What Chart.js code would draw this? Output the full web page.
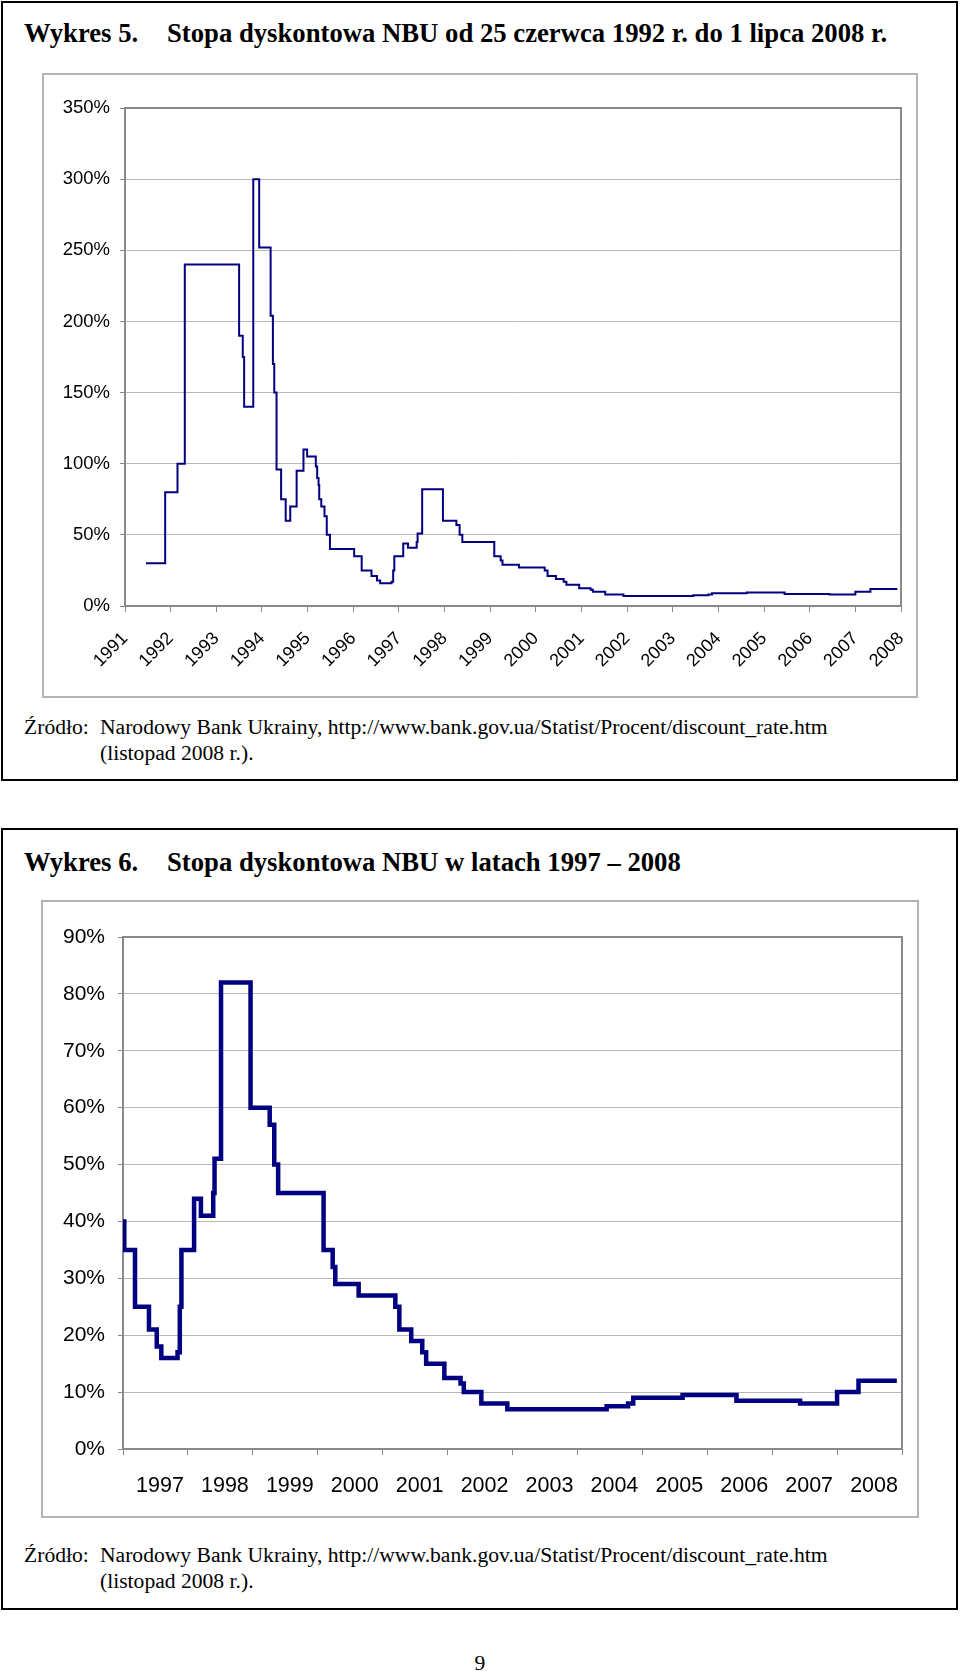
<!DOCTYPE html>
<html>
<head>
<meta charset="utf-8">
<script src="https://cdn.jsdelivr.net/npm/chart.js@4.4.0/dist/chart.umd.min.js"></script>
<style>
  body { margin:0; background:#fff; width:960px; height:1671px; position:relative; overflow:hidden;
         font-family:"Liberation Serif", "Times New Roman", serif; color:#000; }
  .box { position:absolute; left:1px; width:953px; border:2px solid #000; }
  .txt { position:absolute; white-space:pre; }
  .title { font-weight:bold; font-size:26.7px; line-height:26.7px; }
  .src { font-size:21.6px; line-height:25.5px; }
  .frame { position:absolute; border:2px solid #b4b4b4; box-sizing:border-box; }
  .chartbox { position:absolute; }
</style>
</head>
<body>

<div class="box" style="top:1px; height:776px;"></div>
<div class="box" style="top:828px; height:778px;"></div>

<div class="txt title" style="left:24px; top:20px;">Wykres 5.</div>
<div class="txt title" style="left:167px; top:20px;">Stopa dyskontowa NBU od 25 czerwca 1992 r. do 1 lipca 2008 r.</div>

<div class="frame" style="left:42px; top:73px; width:876px; height:625px;"></div>
<div class="chartbox" style="left:42px; top:73px; width:876px; height:625px;"><canvas id="myChart1"></canvas></div>

<div class="txt src" style="left:24px; top:715px;">Źródło:</div>
<div class="txt src" style="left:100px; top:715px;">Narodowy Bank Ukrainy, http://www.bank.gov.ua/Statist/Procent/discount_rate.htm
(listopad 2008 r.).</div>

<div class="txt title" style="left:24px; top:849px;">Wykres 6.</div>
<div class="txt title" style="left:167px; top:849px;">Stopa dyskontowa NBU w latach 1997 – 2008</div>

<div class="frame" style="left:41px; top:900px; width:878px; height:618px;"></div>
<div class="chartbox" style="left:41px; top:900px; width:878px; height:618px;"><canvas id="myChart2"></canvas></div>

<div class="txt src" style="left:24px; top:1543px;">Źródło:</div>
<div class="txt src" style="left:100px; top:1543px;">Narodowy Bank Ukrainy, http://www.bank.gov.ua/Statist/Procent/discount_rate.htm
(listopad 2008 r.).</div>

<div class="txt src" style="left:0; width:960px; text-align:center; top:1651px;">9</div>

<script>
// dates where a new rate starts (decimal year), last one is the end of the series
const stepDates = [
  1992.46, 1992.88, 1993.15, 1993.31, 1994.50, 1994.58, 1994.61, 1994.81, 1994.94,
  1995.19, 1995.24, 1995.27, 1995.32, 1995.42, 1995.52, 1995.62, 1995.76, 1995.91, 1995.99,
  1996.18, 1996.21, 1996.24, 1996.255, 1996.30, 1996.37, 1996.42, 1996.49,
  1997.02, 1997.185, 1997.40, 1997.52, 1997.59, 1997.84, 1997.875, 1997.90,
  1998.095, 1998.20, 1998.39, 1998.41, 1998.51, 1998.965,
  1999.26, 1999.33, 1999.39,
  2000.09, 2000.23, 2000.27, 2000.63,
  2001.195, 2001.257, 2001.44, 2001.61, 2001.67, 2001.95,
  2002.20, 2002.25, 2002.52, 2002.92,
  2004.45, 2004.78, 2004.86, 2005.62, 2006.45, 2007.43,
  2008.00, 2008.33, 2008.92
];
// discount rate in % valid from the matching date
const discountRates = [
  30, 80, 100, 240, 190, 175, 140, 300, 252,
  204, 170, 150, 96, 75, 60, 70, 95, 110, 105,
  98, 90, 85, 75, 70, 63, 50, 40,
  35, 25, 21, 18, 16, 17, 25, 35,
  44, 41, 45, 51, 82, 60,
  57, 50, 45,
  35, 32, 29, 27,
  25, 21, 19, 17, 15, 12.5,
  11.5, 10, 8, 7,
  7.5, 8, 9, 9.5, 8.5, 8,
  10, 12, 12
];
// tick labels as printed under each chart
const yearLabels1 = ["1991","1992","1993","1994","1995","1996","1997","1998","1999",
                     "2000","2001","2002","2003","2004","2005","2006","2007","2008"];
const yearLabels2 = ["1997","1998","1999","2000","2001","2002","2003","2004","2005",
                     "2006","2007","2008"];

const points = stepDates.map((d, i) => ({ x: d, y: discountRates[i] }));

const axisFont = "Liberation Sans";
const lineColor = "#000080";
const gridColor = "#b8b8b8";
const axisColor = "#8a8a8a";

// gray border round the plot area, like the original
const plotBorder = {
  id: "plotBorder",
  beforeDatasetsDraw(chart) {
    const a = chart.chartArea;
    const ctx = chart.ctx;
    ctx.save();
    ctx.strokeStyle = axisColor;
    ctx.lineWidth = 2;
    ctx.strokeRect(a.left, a.top, a.right - a.left, a.bottom - a.top);
    ctx.restore();
  },
};

const chart1 = document.getElementById("myChart1");
var myChart1 = new Chart(chart1, {
  type: "line",
  data: {
    datasets: [
      {
        data: points,
        borderColor: lineColor,
        borderWidth: 2,
        stepped: true,
        pointRadius: 0,
        fill: false,
        borderJoinStyle: "miter",
      },
    ],
  },
  options: {
    animation: false,
    responsive: true,
    maintainAspectRatio: false,
    layout: { padding: { top: 35, right: 17, left: 0, bottom: 0 } },
    scales: {
      x: {
        type: "linear",
        min: 1992,
        max: 2009,
        ticks: {
          stepSize: 1,
          autoSkip: false,
          minRotation: 45,
          maxRotation: 45,
          padding: 16,
          color: "#000",
          font: { family: axisFont, size: 18 },
          callback: (v, i) => yearLabels1[i],
        },
        grid: { drawOnChartArea: false, tickLength: 6, tickColor: axisColor },
        border: { color: axisColor, width: 2 },
        afterFit: (s) => {
          s.height = 92;
          s.paddingLeft = 0;
          s.paddingRight = 0;
        },
      },
      y: {
        min: 0,
        max: 350,
        ticks: {
          stepSize: 50,
          padding: 10,
          color: "#000",
          font: { family: axisFont, size: 18.5 },
          callback: (v) => v + "%",
        },
        grid: { color: gridColor, tickLength: 5, tickColor: axisColor },
        border: { color: axisColor, width: 2 },
        afterFit: (s) => { s.width = 83; },
      },
    },
    plugins: {
      legend: { display: false },
      tooltip: { enabled: false },
    },
  },
  plugins: [plotBorder],
});

const chart2 = document.getElementById("myChart2");
var myChart2 = new Chart(chart2, {
  type: "line",
  data: {
    datasets: [
      {
        data: points,
        xAxisID: "x",
        yAxisID: "y",
        borderColor: lineColor,
        borderWidth: 4.5,
        stepped: true,
        pointRadius: 0,
        fill: false,
        borderJoinStyle: "miter",
      },
    ],
  },
  options: {
    animation: false,
    responsive: true,
    maintainAspectRatio: false,
    layout: { padding: { top: 37, right: 17, left: 0, bottom: 0 } },
    scales: {
      x: { type: "linear", display: false, min: 1997, max: 2009 },
      xc: {
        type: "category",
        axis: "x",
        position: "bottom",
        labels: yearLabels2,
        offset: true,
        ticks: {
          autoSkip: false,
          maxRotation: 0,
          padding: 18,
          labelOffset: 4.5,
          color: "#000",
          font: { family: axisFont, size: 21.5 },
        },
        grid: { offset: true, drawOnChartArea: false, tickLength: 6, tickColor: axisColor },
        border: { color: axisColor, width: 2 },
        afterFit: (s) => { s.height = 69; },
      },
      y: {
        min: 0,
        max: 90,
        ticks: {
          stepSize: 10,
          padding: 13,
          color: "#000",
          font: { family: axisFont, size: 21 },
          callback: (v) => v + "%",
        },
        grid: { color: gridColor, tickLength: 5, tickColor: axisColor },
        border: { color: axisColor, width: 2 },
        afterFit: (s) => { s.width = 82; },
      },
    },
    plugins: {
      legend: { display: false },
      tooltip: { enabled: false },
    },
  },
  plugins: [plotBorder],
});
</script>
</body>
</html>
